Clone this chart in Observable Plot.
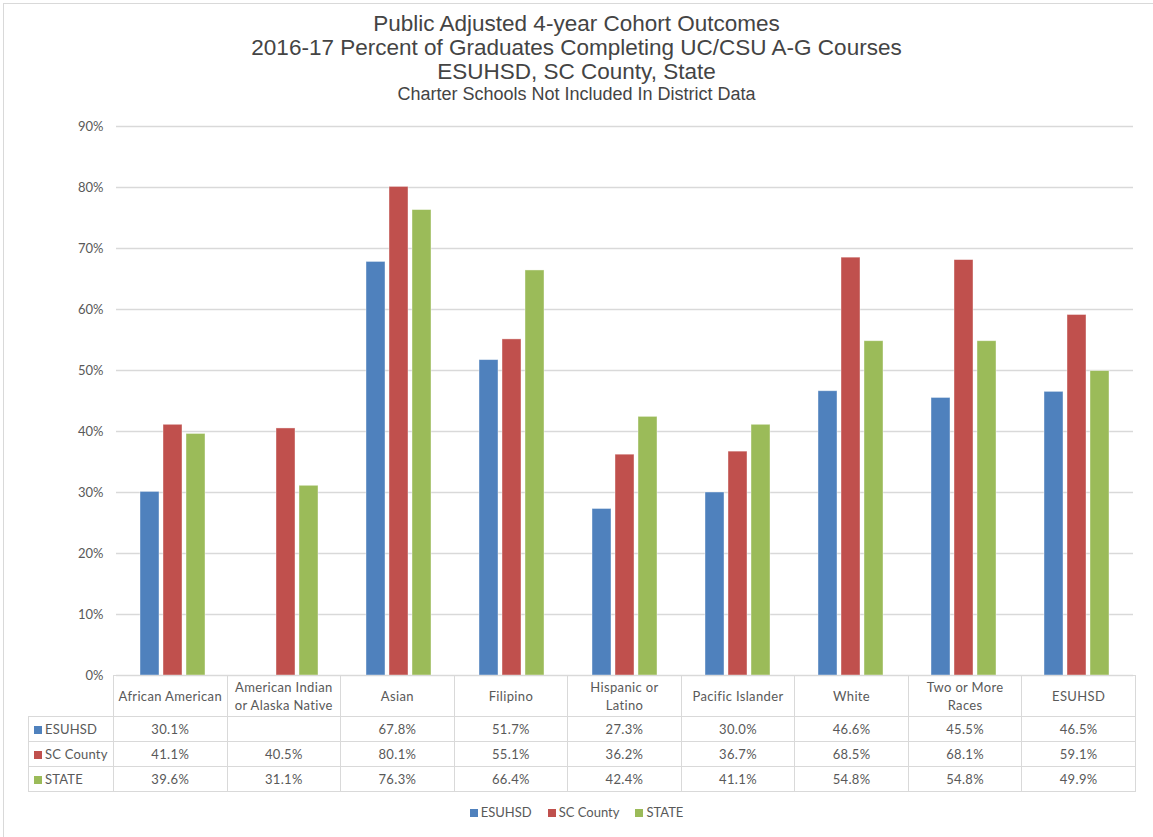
<!DOCTYPE html>
<html>
<head>
<meta charset="utf-8">
<script src="https://cdn.jsdelivr.net/npm/d3@7"></script>
<script src="https://cdn.jsdelivr.net/npm/@observablehq/plot@0.6"></script>
<style>
  html, body { margin: 0; padding: 0; background: #fff; overflow: hidden; }
  #wrap { position: relative; width: 1153px; height: 837px; overflow: hidden; }
  #frame { position: absolute; left: 3px; top: 3px; width: 1200px; height: 900px; border: 1px solid #d9d9d9; pointer-events: none; }
  #title { height: 110px; text-align: center; font-family: "Liberation Sans", Arial, sans-serif; color: #444; }
  #title .t { font-size: 22.5px; line-height: 24px; }
  #title .t1 { padding-top: 12px; }
  #title .s { font-size: 18px; line-height: 20px; }
  #chart svg { display: block; }
  table.dt { border-collapse: collapse; table-layout: fixed; margin-left: 28px; margin-top: -11px; position: relative;
             font-family: Lato, "Open Sans", sans-serif; font-size: 13px; letter-spacing: 0.35px; color: #595959; }
  table.dt td { border: 1px solid #d9d9d9; text-align: center; padding: 0; overflow: hidden; white-space: nowrap; }
  table.dt tr.head td { height: 40px; line-height: 18px; white-space: pre-line; }
  table.dt tr.row td { height: 24px; }
  table.dt td.corner { border-left: none; border-top: none; border-bottom: 1px solid #d9d9d9; }
  table.dt td.lab { text-align: left; padding-left: 5px; letter-spacing: 0.2px; }
  .sw { display: inline-block; width: 8px; height: 8px; margin-right: 3px; vertical-align: 0px; }
  #legend { display: flex; justify-content: center; gap: 16px; margin-top: 12px;
            font-family: Lato, "Open Sans", sans-serif; font-size: 13px; color: #595959; }
</style>
</head>
<body>
<div id="wrap">
  <div id="frame"></div>
  <div id="title">
    <div class="t t1">Public Adjusted 4-year Cohort Outcomes</div>
    <div class="t">2016-17 Percent of Graduates Completing UC/CSU A-G Courses</div>
    <div class="t">ESUHSD, SC County, State</div>
    <div class="s">Charter Schools Not Included In District Data</div>
  </div>
  <div id="chart"></div>
  <div id="table"></div>
  <div id="legend"></div>
</div>
<script>
const categories = ["African American", "American Indian or Alaska Native", "Asian", "Filipino",
  "Hispanic or Latino", "Pacific Islander", "White", "Two or More Races", "ESUHSD"];
const headerLabels = ["African American", "American Indian\nor Alaska Native", "Asian", "Filipino",
  "Hispanic or\nLatino", "Pacific Islander", "White", "Two or More\nRaces", "ESUHSD"];
const series = ["ESUHSD", "SC County", "STATE"];
const colors = ["#4F81BD", "#C0504D", "#9BBB59"];
const esuhsd   = [30.1, null, 67.8, 51.7, 27.3, 30.0, 46.6, 45.5, 46.5];
const scCounty = [41.1, 40.5, 80.1, 55.1, 36.2, 36.7, 68.5, 68.1, 59.1];
const state    = [39.6, 31.1, 76.3, 66.4, 42.4, 41.1, 54.8, 54.8, 49.9];
const yTicks = [0, 10, 20, 30, 40, 50, 60, 70, 80, 90];

const valuesBySeries = [esuhsd, scCounty, state];
const data = [];
series.forEach((s, si) => categories.forEach((c, ci) => {
  const v = valuesBySeries[si][ci];
  if (v != null) data.push({category: c, series: s, value: v});
}));

const plot = Plot.plot({
  width: 1153,
  height: 576,
  marginTop: 16,
  marginBottom: 11,
  marginLeft: 113,
  marginRight: 18,
  style: {fontFamily: "Lato, 'Open Sans', sans-serif", fontSize: "13px", color: "#595959", background: "transparent"},
  fx: {domain: categories, padding: 0, axis: null, label: null},
  x: {domain: series, paddingInner: 0.16, paddingOuter: 1, axis: null},
  y: {domain: [0, 90], ticks: yTicks, tickFormat: d => d + "%", tickSize: 0, tickPadding: 13, label: null},
  color: {domain: series, range: colors},
  marks: [
    Plot.ruleY(yTicks, {stroke: "#d9d9d9", strokeWidth: 1.3}),
    Plot.barY(data, {fx: "category", x: "series", y: "value", fill: "series", stroke: "#ffffff", strokeOpacity: 0.5, strokeWidth: 0.8})
  ]
});
document.getElementById("chart").appendChild(plot);

// data table aligned to the fx band scale
const fx = plot.scale("fx");
const colW = (fx.range[1] - fx.range[0]) / categories.length;
const firstW = fx.range[0] - 28;
let html = '<table class="dt"><colgroup><col style="width:' + firstW + 'px">';
categories.forEach(() => html += '<col style="width:' + colW + 'px">');
html += '</colgroup><tr class="head"><td class="corner"></td>';
headerLabels.forEach(c => html += '<td>' + c + '</td>');
html += '</tr>';
series.forEach((s, si) => {
  html += '<tr class="row"><td class="lab"><span class="sw" style="background:' + colors[si] + '"></span>' + s + '</td>';
  valuesBySeries[si].forEach(v => html += '<td>' + (v == null ? '' : v.toFixed(1) + '%') + '</td>');
  html += '</tr>';
});
html += '</table>';
document.getElementById("table").innerHTML = html;

document.getElementById("legend").innerHTML = series.map((s, i) =>
  '<span><span class="sw" style="background:' + colors[i] + '"></span>' + s + '</span>').join("");
</script>
</body>
</html>
